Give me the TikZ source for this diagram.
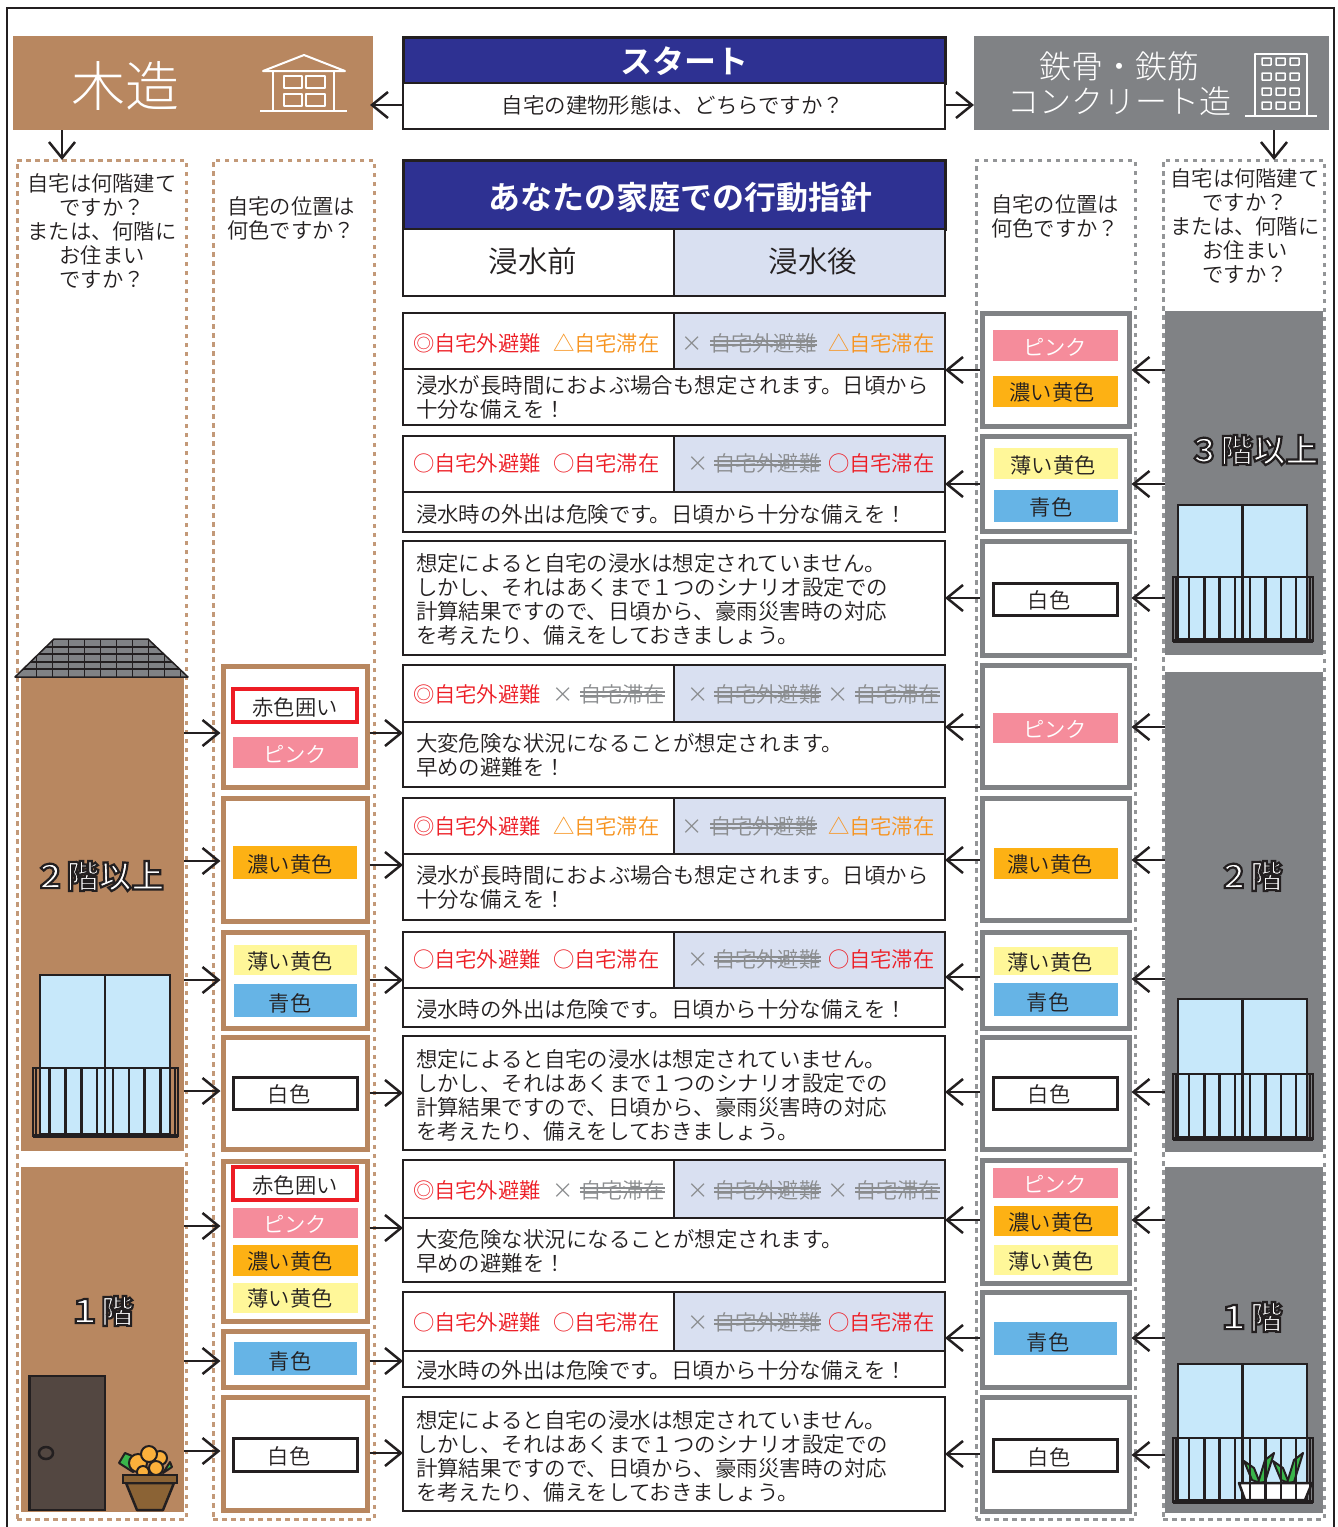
\documentclass[tikz,border=0pt]{standalone}
\usepackage{fontspec}
\usetikzlibrary{arrows.meta,calc}
\IfFontExistsTF{Noto Sans CJK JP DemiLight}
 {\setmainfont{Noto Sans CJK JP DemiLight}[BoldFont={Noto Sans CJK JP Bold}]}
 {\setmainfont{Noto Sans CJK JP}}
\newfontfamily\lightf{Noto Sans CJK JP Light}
\definecolor{ink}{HTML}{231F20}
\definecolor{wood}{HTML}{B88760}
\definecolor{steel}{HTML}{808285}
\definecolor{navy}{HTML}{2E3192}
\definecolor{pale}{HTML}{D9E0F1}
\definecolor{pinkc}{HTML}{F58C9B}
\definecolor{deepy}{HTML}{FDB114}
\definecolor{lighty}{HTML}{FFF799}
\definecolor{bluec}{HTML}{66B4E6}
\definecolor{redc}{HTML}{ED1C24}
\definecolor{orangec}{HTML}{F7931E}
\definecolor{strikec}{HTML}{8A8C8E}
\definecolor{glass}{HTML}{C7E8FA}
\definecolor{door}{HTML}{534741}
\definecolor{potc}{HTML}{8B6335}
\definecolor{flower}{HTML}{FBB03B}
\definecolor{leaf}{HTML}{39B54A}
\newcommand\strk[1]{\leavevmode\setbox0=\hbox{#1}\rlap{\copy0}\rlap{\raise 9.2pt\hbox{\vrule width\wd0 height 2pt depth 0pt}}\rlap{\raise 4.6pt\hbox{\vrule width\wd0 height 2pt depth 0pt}}\hbox to\wd0{}}
\newcommand\outl[1]{\bfseries\special{pdf:code q 2 Tr 2.2 w 0.137 0.122 0.125 RG 1 1 1 rg}#1\special{pdf:code Q}}
\tikzset{
 bxbase/.style={rectangle,inner sep=0pt,outer sep=0pt,anchor=center},
 woodfill/.style={bxbase,fill=wood},
 steelfill/.style={bxbase,fill=steel},
 navyfill/.style={bxbase,fill=navy,draw=ink,line width=3pt},
 plainbox/.style={bxbase,draw=ink,line width=2.8pt,fill=white},
 palebox/.style={bxbase,draw=ink,line width=2.8pt,fill=pale},
 rowbox/.style={bxbase,draw=ink,line width=2.8pt},
 woodbox/.style={bxbase,draw=wood,line width=5pt,fill=white,outer sep=2.5pt},
 steelbox/.style={bxbase,draw=steel,line width=5pt,fill=white,outer sep=2.5pt},
 wooddash/.style={bxbase,draw=wood!85!white,line width=3pt,dash pattern=on 4.5pt off 4.5pt},
 steeldash/.style={bxbase,draw=steel!85!white,line width=3pt,dash pattern=on 4.5pt off 4.5pt},
 txt/.style={inner sep=0pt,outer sep=0pt,text=ink,font=\fontsize{21.3}{24}\selectfont,text height=18.7pt,text depth=2.6pt},
 para/.style={inner sep=0pt,outer sep=0pt,text=ink,font=\fontsize{21.45}{24}\selectfont,align=left,anchor=west},
 qtext/.style={inner sep=0pt,outer sep=0pt,text=ink,font=\fontsize{21.3}{23.8}\selectfont,align=center},
 big/.style={inner sep=0pt,outer sep=0pt,font=\fontsize{32.5}{36}\selectfont},
 arr/.style={draw=ink,line width=2.5pt,-{Straight Barb[length=16pt,width=26pt,line width=2.5pt]}},
 wl/.style={draw=ink,line width=2.5pt},
 icon/.style={draw=white,line width=2pt,line join=round},
}
% name x1 y1 x2 y2 style
\newcommand\bx[6]{\pgfmathsetmacro\bxcx{(#2+#4)/2}\pgfmathsetmacro\bxcy{(#3+#5)/2}\pgfmathsetmacro\bxw{#4-#2}\pgfmathsetmacro\bxh{#5-#3}\node[#6,minimum width=\bxw pt,minimum height=\bxh pt] (#1) at (\bxcx,\bxcy) {};}
% label: name fillstyle x1 y1 x2 y2 tx ty text
\newcommand\lab[9]{\path[#2] (#3,#4) rectangle (#5,#6);\node[txt] (#1) at (#7,#8) {#9};}
\tikzset{
 lpink/.style={fill=pinkc},ldeep/.style={fill=deepy},llight/.style={fill=lighty},lblue/.style={fill=bluec},
 lwhite/.style={draw=ink,line width=3pt,fill=white},lred/.style={draw=redc,line width=4.5pt,fill=white}}
% white-text label
\newcommand\labw[8]{\path[lpink] (#2,#3) rectangle (#4,#5);\node[txt,text=white] (#1) at (#6,#7) {#8};}
% row skeleton: name y1 ymid y2
\newcommand\rowtop[4]{\fill[pale] (674,#2) rectangle (945,#3);\bx{#1}{403}{#2}{945}{#4}{rowbox}\draw[line width=2.8pt,draw=ink] (403,#3) -- (945,#3) (674,#2) -- (674,#3);}
\newcommand\topA[2]{%
 \node[txt,anchor=west,text=redc] (#1a) at (413,#2) {◎自宅外避難};
 \node[txt,anchor=west,text=orangec] (#1b) at (553,#2) {△自宅滞在};
 \node[txt,anchor=west,text=strikec] (#1c) at (681,#2) {×};
 \node[txt,anchor=west,text=strikec] (#1d) at (710,#2) {\strk{自宅外避難}};
 \node[txt,anchor=west,text=orangec] (#1e) at (828,#2) {△自宅滞在};}
\newcommand\topB[2]{%
 \node[txt,anchor=west,text=redc] (#1a) at (413,#2) {○自宅外避難};
 \node[txt,anchor=west,text=redc] (#1b) at (553,#2) {○自宅滞在};
 \node[txt,anchor=west,text=strikec] (#1c) at (687,#2) {×};
 \node[txt,anchor=west,text=strikec] (#1d) at (714,#2) {\strk{自宅外避難}};
 \node[txt,anchor=west,text=redc] (#1e) at (828,#2) {○自宅滞在};}
\newcommand\topC[2]{%
 \node[txt,anchor=west,text=redc] (#1a) at (413,#2) {◎自宅外避難};
 \node[txt,anchor=west,text=strikec] (#1b) at (552,#2) {×};
 \node[txt,anchor=west,text=strikec] (#1c) at (580,#2) {\strk{自宅滞在}};
 \node[txt,anchor=west,text=strikec] (#1d) at (687,#2) {×};
 \node[txt,anchor=west,text=strikec] (#1e) at (714,#2) {\strk{自宅外避難}};
 \node[txt,anchor=west,text=strikec] (#1f) at (827,#2) {×};
 \node[txt,anchor=west,text=strikec] (#1g) at (855,#2) {\strk{自宅滞在}};}
\newcommand\bodyLong{浸水が長時間におよぶ場合も想定されます。日頃から\\十分な備えを！}
\newcommand\bodyOut{浸水時の外出は危険です。日頃から十分な備えを！}
\newcommand\bodyNone{想定によると自宅の浸水は想定されていません。\\しかし、それはあくまで１つのシナリオ設定での\\計算結果ですので、日頃から、豪雨災害時の対応\\を考えたり、備えをしておきましょう。}
\newcommand\bodyDanger{大変危険な状況になることが想定されます。\\早めの避難を！}
% window with railing: wx1 wx2 wy1 wy2 rx1 rx2 ry1 ry2
\newcommand\winrail[8]{%
 \draw[wl,fill=glass] (#1,#3) rectangle (#2,#4);
 \pgfmathsetmacro\wmid{(#1+#2)/2}
 \draw[wl] (\wmid,#3) -- (\wmid,#4);
 \draw[wl] (#5,#7) rectangle (#6,#8);
 \draw[line width=3.5pt,draw=ink] (#5,#8) -- (#6,#8);
 \pgfmathsetmacro\ra{#5+3}\pgfmathsetmacro\rb{#6-3}
 \draw[wl] (\ra,#7) -- (\ra,#8) (\rb,#7) -- (\rb,#8);
 \foreach \k in {0,...,7}{\pgfmathsetmacro\rx{#5+(#6-#5)/140*(16+15.3*\k)}\draw[wl] (\rx,#7) -- (\rx,#8);}}
\newcommand\conn[3]{\draw[arr] (#1 |- 0,#3) -- (#2 |- 0,#3);}
\begin{document}
\begin{tikzpicture}[x=1pt,y=-1pt]
\useasboundingbox (0,0) rectangle (1338,1527);
\fill[white] (0,0) rectangle (1338,1527);
\draw[line width=2.5pt,draw=ink] (7,1530) -- (7,8) -- (1334,8) -- (1334,1530);
% dashed columns
\bx{colA}{17}{160}{186}{1519}{wooddash}
\bx{colB}{213}{160}{374}{1519}{wooddash}
\bx{colD}{976}{160}{1135}{1519}{steeldash}
\bx{colE}{1163}{160}{1324}{1519}{steeldash}
% headers
\bx{wood}{13}{36}{373}{130}{woodfill}
\node[big,text=white,font=\lightf\fontsize{54}{56}\selectfont] (woodt) at (125,86) {木造};
\draw[icon] (263,71) -- (304,55) -- (345,71) -- cycle;
\draw[icon] (273,71) -- (273,110) (334,71) -- (334,110) (260,110.5) -- (347,110.5);
\draw[icon] (284,76) rectangle (302,88) (306,76) rectangle (325,88) (284,94) rectangle (302,106) (306,94) rectangle (325,106);
\bx{steelh}{974}{36}{1329}{130}{steelfill}
\node[inner sep=0pt,text=white,align=center,font=\lightf\fontsize{32}{35}\selectfont] (steelt) at (1119,84) {鉄骨・鉄筋\\コンクリート造};
\draw[icon] (1255,116) -- (1255,54) -- (1307,54) -- (1307,116) (1245,116) -- (1317,116);
\foreach \wy in {58,73,88,102}{\foreach \wx in {1262,1276,1290}{\draw[white,line width=1.5pt,rounded corners=.5pt] (\wx,\wy) rectangle ++(9,7);}}
\bx{startt}{403}{37}{945}{83}{navyfill}
\node[big,text=white,font=\bfseries\fontsize{32}{36}\selectfont] (starttx) at (684,61) {スタート};
\bx{startq}{403}{83}{945}{129}{plainbox}
\node[txt,font=\fontsize{21.45}{24}\selectfont] (startqt) at (673,105) {自宅の建物形態は、どちらですか？};
% questions
\node[qtext] (qA) at (102,231) {自宅は何階建て\\ですか？\\または、何階に\\お住まい\\ですか？};
\node[qtext] (qB) at (291,218) {自宅の位置は\\何色ですか？};
\node[qtext] (qD) at (1055,216) {自宅の位置は\\何色ですか？};
\node[qtext] (qE) at (1245,226) {自宅は何階建て\\ですか？\\または、何階に\\お住まい\\ですか？};
% title
\bx{titleb}{403}{160}{945}{229}{navyfill}
\node[big,text=white,font=\bfseries\fontsize{32}{36}\selectfont] (titlet) at (680,197) {あなたの家庭での行動指針};
\bx{before}{403}{229}{674}{296}{plainbox}
\bx{after}{674}{229}{945}{296}{palebox}
\node[txt,font=\fontsize{29.5}{32}\selectfont,text height=26pt,text depth=3.5pt] (beforet) at (533,261) {浸水前};
\node[txt,font=\fontsize{29.5}{32}\selectfont,text height=26pt,text depth=3.5pt] (aftert) at (813,261) {浸水後};
% center rows
\rowtop{r1}{313}{369}{425}\topA{r1}{343}
\node[para] (r1t) at (416,397) {\bodyLong};
\rowtop{r2}{436}{492}{532}\topB{r2}{463}
\node[para] (r2t) at (416,514) {\bodyOut};
\bx{r3}{403}{541}{945}{655}{plainbox}
\node[para] (r3t) at (416,599) {\bodyNone};
\rowtop{r4}{665}{722}{787}\topC{r4}{694}
\node[para] (r4t) at (416,755) {\bodyDanger};
\rowtop{r5}{798}{854}{920}\topA{r5}{826}
\node[para] (r5t) at (416,887) {\bodyLong};
\rowtop{r6}{932}{988}{1027}\topB{r6}{959}
\node[para] (r6t) at (416,1009) {\bodyOut};
\bx{r7}{403}{1036}{945}{1150}{plainbox}
\node[para] (r7t) at (416,1095) {\bodyNone};
\rowtop{r8}{1160}{1218}{1282}\topC{r8}{1190}
\node[para] (r8t) at (416,1251) {\bodyDanger};
\rowtop{r9}{1292}{1351}{1387}\topB{r9}{1322}
\node[para] (r9t) at (416,1370) {\bodyOut};
\bx{r10}{403}{1397}{945}{1511}{plainbox}
\node[para] (r10t) at (416,1456) {\bodyNone};
% column B boxes
\bx{ba}{223}{666}{367}{787}{woodbox}
\lab{baa}{lred}{233}{689}{357}{722}{295}{707}{赤色囲い}
\labw{bab}{233}{737}{358}{768}{295}{754}{ピンク}
\bx{bb}{223}{798}{367}{921}{woodbox}
\lab{bba}{ldeep}{233}{846}{357}{879}{290}{864}{濃い黄色}
\bx{bc}{223}{932}{367}{1028}{woodbox}
\lab{bca}{llight}{234}{945}{357}{975}{290}{961}{薄い黄色}
\lab{bcb}{lblue}{234}{984}{357}{1017}{290}{1003}{青色}
\bx{bd}{223}{1037}{367}{1149}{woodbox}
\lab{bda}{lwhite}{233}{1077}{357}{1109}{289}{1094}{白色}
\bx{be}{223}{1161}{367}{1321}{woodbox}
\lab{bea}{lred}{233}{1167}{357}{1200}{295}{1185}{赤色囲い}
\labw{beb}{233}{1208}{358}{1238}{295}{1224}{ピンク}
\lab{bec}{ldeep}{233}{1245}{358}{1276}{290}{1261}{濃い黄色}
\lab{bed}{llight}{233}{1283}{358}{1313}{290}{1298}{薄い黄色}
\bx{bf}{223}{1331}{367}{1387}{woodbox}
\lab{bfa}{lblue}{234}{1342}{357}{1375}{290}{1361}{青色}
\bx{bg}{223}{1397}{367}{1510}{woodbox}
\lab{bga}{lwhite}{233}{1438}{357}{1471}{289}{1456}{白色}
% column D boxes
\bx{d1}{982}{313}{1129}{426}{steelbox}
\labw{d1a}{993}{330}{1118}{361}{1055}{347}{ピンク}
\lab{d1b}{ldeep}{993}{376}{1118}{407}{1052}{392}{濃い黄色}
\bx{d2}{982}{436}{1129}{531}{steelbox}
\lab{d2a}{llight}{994}{448}{1118}{479}{1053}{465}{薄い黄色}
\lab{d2b}{lblue}{994}{490}{1118}{522}{1051}{507}{青色}
\bx{d3}{982}{541}{1129}{655}{steelbox}
\lab{d3a}{lwhite}{993}{583}{1117}{615}{1049}{600}{白色}
\bx{d4}{982}{665}{1129}{787}{steelbox}
\labw{d4a}{993}{713}{1118}{743}{1055}{729}{ピンク}
\bx{d5}{982}{798}{1129}{920}{steelbox}
\lab{d5a}{ldeep}{994}{848}{1118}{879}{1050}{864}{濃い黄色}
\bx{d6}{982}{932}{1129}{1028}{steelbox}
\lab{d6a}{llight}{994}{947}{1118}{975}{1050}{962}{薄い黄色}
\lab{d6b}{lblue}{994}{983}{1118}{1016}{1048}{1002}{青色}
\bx{d7}{982}{1037}{1129}{1149}{steelbox}
\lab{d7a}{lwhite}{993}{1077}{1117}{1109}{1049}{1094}{白色}
\bx{d8}{982}{1160}{1129}{1283}{steelbox}
\labw{d8a}{993}{1168}{1118}{1198}{1055}{1184}{ピンク}
\lab{d8b}{ldeep}{994}{1206}{1118}{1236}{1051}{1222}{濃い黄色}
\lab{d8c}{llight}{994}{1245}{1118}{1275}{1051}{1261}{薄い黄色}
\bx{d9}{982}{1292}{1129}{1387}{steelbox}
\lab{d9a}{lblue}{994}{1322}{1117}{1355}{1048}{1342}{青色}
\bx{d10}{982}{1397}{1129}{1511}{steelbox}
\lab{d10a}{lwhite}{993}{1439}{1117}{1471}{1049}{1457}{白色}
% column A scene
\bx{a2}{21}{677}{184}{1151}{woodfill}
\bx{a1}{21}{1167}{184}{1512}{woodfill}
\begin{scope}
 \clip (15,677) -- (54,639) -- (148,639) -- (188,677) -- cycle;
 \fill[steel] (15,677) -- (54,639) -- (148,639) -- (188,677) -- cycle;
 \foreach \ry in {647,654,662,669}{\draw[ink,line width=1.5pt] (10,\ry) -- (190,\ry);}
 \foreach \rx in {36.5,52.5,68.5,84.5,100.5,116.5,132.5,148.5,164.5,180.5}{\draw[ink,line width=1.5pt] (\rx,639) -- (\rx,677);}
\end{scope}
\draw[ink,line width=1.5pt,line join=round] (15,677) -- (54,639) -- (148,639) -- (188,677) -- cycle;
\node[big] (a2t) at (99,876) {\outl{２階以上}};
\winrail{40}{170}{975}{1134}{33}{178}{1068}{1136}
\node[big] (a1t) at (101,1311) {\outl{１階}};
\draw[ink,line width=2.5pt,fill=door] (29.5,1376) rectangle (105,1510);
\draw[ink,line width=2.5pt] (46,1453) ellipse [x radius=7,y radius=6];
\draw[ink,line width=2pt,fill=leaf,line join=round] (125,1453) -- (119,1463) -- (133,1472) -- (137,1458) -- cycle;
\draw[ink,line width=2pt,fill=leaf,line join=round] (170,1462) -- (172,1467) -- (163,1473) -- cycle;
\foreach \fx/\fy/\fr in {160/1458/7,138/1463/9,149/1454/8,156/1468/7,143/1472/6}{\draw[ink,line width=2pt,fill=flower] (\fx,\fy) circle [radius=\fr];}
\draw[ink,line width=2.5pt,fill=potc,line join=round] (126,1483) -- (174,1483) -- (163,1510) -- (137,1510) -- cycle;
\draw[ink,line width=2.5pt,fill=potc] (123,1475) rectangle (177,1483);
% column E scene
\bx{e3}{1165}{311}{1323}{655}{steelfill}
\node[big] (e3t) at (1253,450) {\outl{３階以上}};
\winrail{1178}{1307}{505}{639}{1173}{1313}{577}{641}
\bx{e2}{1165}{672}{1323}{1152}{steelfill}
\node[big] (e2t) at (1250,876) {\outl{２階}};
\winrail{1178}{1307}{999}{1137}{1173}{1313}{1074}{1139}
\bx{e1}{1165}{1167}{1323}{1513}{steelfill}
\node[big] (e1t) at (1250,1317) {\outl{１階}};
\draw[wl,fill=glass] (1178,1364) rectangle (1307,1500);
\draw[wl] (1242.5,1364) -- (1242.5,1500);
\foreach \sx in {0,29}{
 \begin{scope}[shift={(\sx,0)}]
 \draw[ink,line width=2pt,fill=leaf,line join=round] (1244,1461) -- (1254,1468) -- (1260,1483) -- (1252,1480) -- cycle;
 \draw[ink,line width=2pt,fill=leaf,line join=round] (1274,1453) -- (1265,1460) -- (1258,1483) -- (1265,1482) -- cycle;
 \end{scope}}
\draw[wl,fill=white,line join=round] (1239,1483) -- (1312,1483) -- (1305,1500) -- (1245,1500) -- cycle;
\draw[wl] (1173,1438) rectangle (1313,1502);
\draw[line width=3.5pt,draw=ink] (1173,1502) -- (1313,1502);
\draw[wl] (1176,1438) -- (1176,1502) (1310,1438) -- (1310,1502);
\foreach \rx in {1189,1204.3,1219.6,1234.9,1250.2,1265.5,1280.8,1296.1}{\draw[wl] (\rx,1438) -- (\rx,1502);}
% connectors: header
\draw[arr,shorten >=-3pt] (startq.west |- 0,105) -- (wood.east |- 0,105);
\conn{startq.east}{steelh.west}{105}
\draw[arr] (wood.south -| 62,0) -- (colA.north -| 62,0);
\draw[arr] (steelh.south -| 1274,0) -- (colE.north -| 1274,0);
% column A to B
\conn{a2.east}{ba.west}{733}
\conn{a2.east}{bb.west}{861}
\conn{a2.east}{bc.west}{980}
\conn{a2.east}{bd.west}{1091}
\conn{a1.east}{be.west}{1226}
\conn{a1.east}{bf.west}{1361}
\conn{a1.east}{bg.west}{1451}
% column B to rows
\conn{ba.east}{r4.west}{733}
\conn{bb.east}{r5.west}{865}
\conn{bc.east}{r6.west}{980}
\conn{bd.east}{r7.west}{1093}
\conn{be.east}{r8.west}{1228}
\conn{bf.east}{r9.west}{1361}
\conn{bg.east}{r10.west}{1453}
% column D to rows
\conn{d1.west}{r1.east}{370}
\conn{d2.west}{r2.east}{484}
\conn{d3.west}{r3.east}{598}
\conn{d4.west}{r4.east}{727}
\conn{d5.west}{r5.east}{860}
\conn{d6.west}{r6.east}{977}
\conn{d7.west}{r7.east}{1092}
\conn{d8.west}{r8.east}{1220}
\conn{d9.west}{r9.east}{1338}
\conn{d10.west}{r10.east}{1454}
% column E to D
\conn{e3.west}{d1.east}{370}
\conn{e3.west}{d2.east}{484}
\conn{e3.west}{d3.east}{598}
\conn{e2.west}{d4.east}{727}
\conn{e2.west}{d5.east}{860}
\conn{e2.west}{d6.east}{979}
\conn{e2.west}{d7.east}{1092}
\conn{e1.west}{d8.east}{1220}
\conn{e1.west}{d9.east}{1338}
\conn{e1.west}{d10.east}{1455}
\end{tikzpicture}
\end{document}
